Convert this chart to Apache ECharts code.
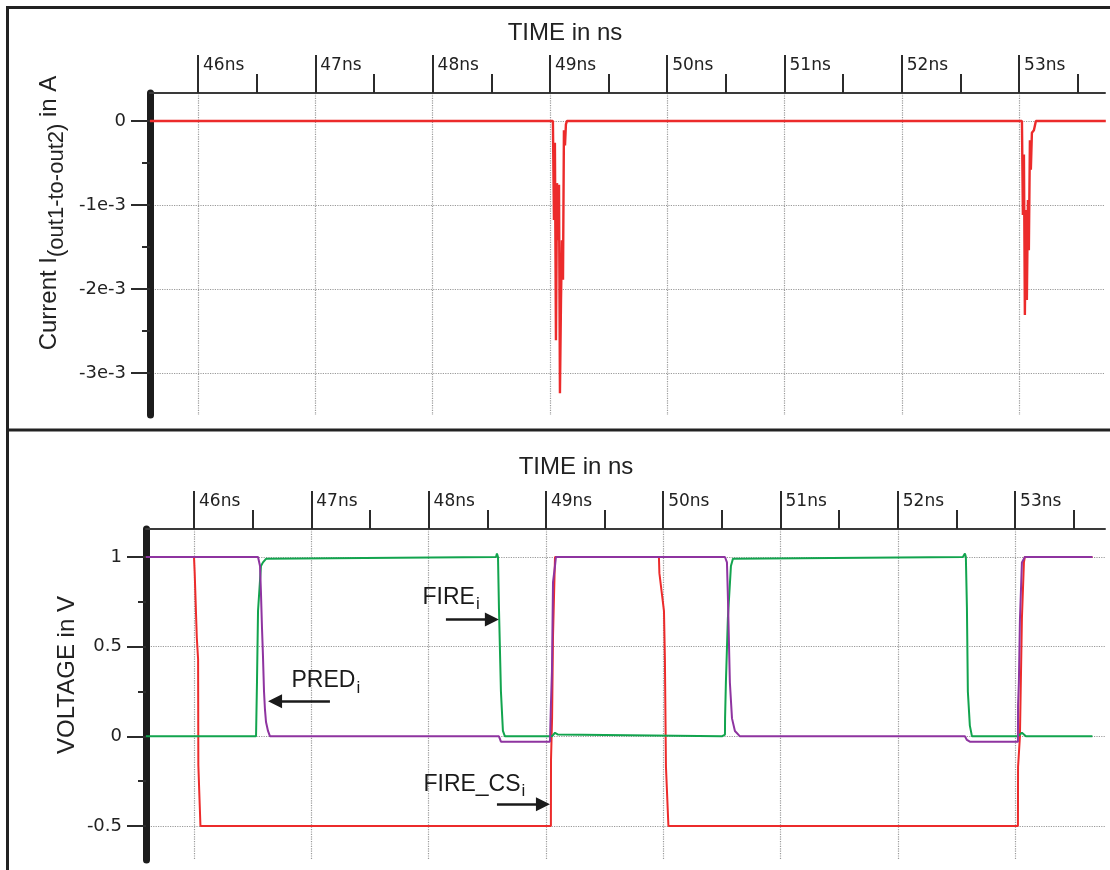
<!DOCTYPE html>
<html>
<head>
<meta charset="utf-8">
<title>Current and voltage waveforms</title>
<script src="https://cdn.jsdelivr.net/npm/echarts@6/dist/echarts.min.js"></script>
<style>
  html, body { margin: 0; padding: 0; background: #fff; }
  #chart { width: 1110px; height: 870px; }
</style>
</head>
<body>
<div id="chart"></div>
<script>
// ---- data ----
// top panel: current I(out1-to-out2) in A
const currentTime = [45.59, 49.026, 49.035, 49.043, 49.052, 49.061, 49.069, 49.078, 49.086, 49.095,
  49.103, 49.112, 49.120, 49.129, 49.137, 49.146, 53.025, 53.033, 53.042, 53.050, 53.059, 53.067,
  53.076, 53.084, 53.093, 53.101, 53.110, 53.127, 53.144, 53.74];
const currentAmp = [0, 0, -0.00118, -0.00026, -0.00261, -0.00074, -0.00142, -0.00076, -0.00324, -0.00213,
  -0.00142, -0.00189, -0.00011, -0.00029, -0.00004, 0, 0, -0.00112, -0.00040, -0.00231, -0.00106, -0.00213,
  -0.00094, -0.00154, -0.00023, -0.00058, -0.00014, -0.00011, 0, 0];

// bottom panel: voltages in V
const fireCsTime = [45.59, 46.000, 46.006, 46.024, 46.035, 46.037, 46.053, 46.055, 49.043, 49.044, 49.052,
  49.053, 49.061, 49.078, 49.964, 49.968, 50.007, 50.015, 50.024, 50.041, 50.045, 53.025, 53.026, 53.033,
  53.042, 53.059, 53.076, 53.084, 53.66];
const fireCsVolt = [1, 1, 0.91, 0.55, 0.43, -0.16, -0.16, -0.5, -0.5, -0.13, -0.13, 0.1, 0.56, 1, 1, 0.91,
  0.7, 0.43, -0.17, -0.17, -0.5, -0.5, -0.17, -0.18, 0, 0.66, 0.97, 1, 1];

const fireTime = [45.59, 46.503, 46.512, 46.529, 46.537, 46.546, 46.571, 46.588, 46.614, 46.631, 48.575,
  48.583, 48.592, 48.600, 48.617, 48.634, 48.651, 49.052, 49.061, 49.078, 49.103, 49.120, 50.501, 50.510,
  50.527, 50.528, 50.535, 50.552, 50.578, 50.595, 50.612, 52.556, 52.573, 52.581, 52.590, 52.598, 52.615,
  52.633, 53.025, 53.042, 53.059, 53.076, 53.093, 53.66];
const fireVolt = [0, 0, -0.01, 0, 0.3, 0.7, 0.95, 0.97, 0.99, 1, 1, 1.02, 1, 0.72, 0.25, 0.03, 0, 0, -0.01,
  0.02, 0.01, 0, 0, -0.01, 0.01, 0.1, 0.3, 0.66, 0.95, 0.99, 1, 1, 1.02, 1, 0.72, 0.25, 0.06, 0, 0, 0.01,
  0.02, 0.01, 0, 0];

const predTime = [45.59, 46.546, 46.563, 46.571, 46.580, 46.588, 46.597, 46.605, 46.614, 46.631, 46.648,
  48.600, 48.617, 49.035, 49.043, 49.052, 49.061, 49.078, 49.086, 50.527, 50.535, 50.544, 50.552, 50.569,
  50.587, 50.612, 50.655, 52.573, 52.590, 52.615, 53.025, 53.026, 53.033, 53.042, 53.059, 53.084, 53.66];
const predVolt = [1, 1, 0.95, 0.8, 0.6, 0.45, 0.25, 0.15, 0.08, 0.03, 0, 0, -0.03, -0.03, 0.17, 0.36, 0.86,
  0.95, 1, 1, 1.01, 0.97, 0.78, 0.3, 0.1, 0.03, 0, 0, -0.02, -0.03, -0.03, 0.17, 0.3, 0.65, 0.97, 1, 1];

// annotations (label anchor and arrow ends, in ns / V)
const noteText = ['{m|FIRE}{s|i}', '{m|PRED}{s|i}', '{m|FIRE_CS}{s|i}'];
const noteTime = [47.944, 46.827, 47.952];
const noteVolt = [0.775, 0.309, -0.268];
const arrowFromTime = [48.148, 47.159, 48.583];
const arrowToTime = [48.540, 46.691, 48.975];
const arrowVolt = [0.652, 0.195, -0.379];

// axis ranges and ticks
const timeTicks = [46, 54];          // first / last time tick, 1 ns apart
const currentTicks = [-0.003, 0];    // 1e-3 apart
const voltTicks = [-0.5, 1];         // 0.5 apart

const pairs = (xs, ys) => xs.map((x, i) => [x, ys[i]]);

const chart = echarts.init(document.getElementById('chart'));

const dark = '#2b2b2b';
const gridLine = { show: true, showMinLine: true, showMaxLine: true,
  lineStyle: { color: '#9a9a9a', type: 'dotted', width: 1.2 } };
const tickFont = { fontFamily: 'DejaVu Sans', fontSize: 17, color: '#222' };
const bigFont = '24px "Liberation Sans"';

// hidden helper axis
const blank = (gridIndex) => ({ gridIndex, type: 'value', show: false, min: 0, max: 1 });

// data axes: only the frame lines
const dataX = (gridIndex, min, max) => ({
  gridIndex, type: 'value', position: 'top', min, max,
  axisLine: { show: true, onZero: false, lineStyle: { color: '#3a3a3a', width: 2 } },
  axisTick: { show: false }, axisLabel: { show: false }, splitLine: { show: false }
});
const dataY = (gridIndex, min, max) => ({
  gridIndex, type: 'value', min, max,
  axisLine: { show: true, onZero: false, lineStyle: { color: '#1c1c1c', width: 7 } },
  axisTick: { show: false }, axisLabel: { show: false }, splitLine: { show: false }
});

// tick axes
const timeAxis = (gridIndex) => ({
  gridIndex, type: 'value', position: 'top', min: timeTicks[0], max: timeTicks[1], interval: 1,
  axisLine: { show: false, onZero: false },
  axisTick: { show: true, length: 38, lineStyle: { color: dark, width: 2 } },
  minorTick: { show: true, splitNumber: 2, length: 19, lineStyle: { color: dark, width: 2 } },
  axisLabel: { show: true, formatter: (v) => v + 'ns', align: 'left', padding: [0, 0, 0, 5], margin: 19, ...tickFont },
  splitLine: gridLine
});
const levelAxis = (gridIndex, ticks, interval, formatter) => ({
  gridIndex, type: 'value', min: ticks[0], max: ticks[1], interval,
  axisLine: { show: false, onZero: false },
  axisTick: { show: true, length: 19, lineStyle: { color: dark, width: 2 } },
  minorTick: { show: true, splitNumber: 2, length: 8, lineStyle: { color: dark, width: 2 } },
  axisLabel: { show: true, margin: 24, formatter, ...tickFont, fontSize: 18 },
  splitLine: gridLine
});

const lineSeries = (axisIndex, xs, ys, color, extra) => Object.assign({
  type: 'line', xAxisIndex: axisIndex, yAxisIndex: axisIndex,
  data: pairs(xs, ys), symbol: 'none', showSymbol: false, silent: true,
  lineStyle: { color, width: 2 }, itemStyle: { color }
}, extra || {});

const richNote = {
  m: { fontFamily: 'Liberation Sans', fontSize: 23, color: '#1a1a1a' },
  s: { fontFamily: 'Liberation Sans', fontSize: 17, color: '#1a1a1a', padding: [14, 0, 0, 1], verticalAlign: 'bottom' }
};

// grids are placed by hand, so no automatic shrinking to fit labels
const box = (left, width, top, height) => ({ left, width, top, height, containLabel: false, outerBoundsMode: 'none' });

const option = {
  animation: false,
  backgroundColor: '#ffffff',
  grid: [
    box(150, 955, 93, 322),    // top data
    box(198, 938.4, 93, 322),  // top time ticks
    box(150, 955, 121, 252),   // top current ticks
    box(146, 959, 529, 331),   // bottom data
    box(194, 938.4, 529, 331), // bottom time ticks
    box(146, 959, 557, 269)    // bottom voltage ticks
  ],
  xAxis: [
    dataX(0, 45.5908, 53.7332),
    timeAxis(1),
    blank(2),
    dataX(3, 45.5908, 53.7673),
    timeAxis(4),
    blank(5)
  ],
  yAxis: [
    dataY(0, -0.0035, 0.000333),
    blank(1),
    levelAxis(2, currentTicks, 0.001, (v) => (Math.abs(v) < 1e-9 ? '0' : Math.round(v * 1000) + 'e-3')),
    dataY(3, -0.6896, 1.1561),
    blank(4),
    levelAxis(5, voltTicks, 0.5, (v) => String(v))
  ],
  graphic: [
    { type: 'rect', silent: true, shape: { x: 7.5, y: 7.5, width: 1130, height: 900 },
      style: { fill: 'none', stroke: '#222', lineWidth: 3 } },
    { type: 'line', silent: true, shape: { x1: 7.5, y1: 430, x2: 1110, y2: 430 },
      style: { stroke: '#222', lineWidth: 3 } },
    { type: 'text', silent: true, x: 565, y: 33.5,
      style: { text: 'TIME in ns', font: bigFont, fill: '#222', align: 'center', textAlign: 'center',
        verticalAlign: 'middle', textVerticalAlign: 'middle' } },
    { type: 'text', silent: true, x: 576, y: 467,
      style: { text: 'TIME in ns', font: bigFont, fill: '#222', align: 'center', textAlign: 'center',
        verticalAlign: 'middle', textVerticalAlign: 'middle' } },
    { type: 'text', silent: true, x: 49, y: 213, rotation: Math.PI / 2,
      style: {
        text: '{m|Current I}{s|(out1-to-out2)}{m| in A}',
        rich: {
          m: { fontFamily: 'Liberation Sans', fontSize: 24, fill: '#222' },
          s: { fontFamily: 'Liberation Sans', fontSize: 22, fill: '#222', padding: [16, 0, 0, 0], verticalAlign: 'bottom' }
        },
        fill: '#222', align: 'center', textAlign: 'center', verticalAlign: 'middle', textVerticalAlign: 'middle'
      } },
    { type: 'text', silent: true, x: 67, y: 675, rotation: Math.PI / 2,
      style: { text: 'VOLTAGE in V', font: bigFont, fill: '#222', align: 'center', textAlign: 'center',
        verticalAlign: 'middle', textVerticalAlign: 'middle' } }
  ],
  series: [
    lineSeries(0, currentTime, currentAmp, '#ec2b2b', { lineStyle: { color: '#ec2b2b', width: 2.4 } }),
    lineSeries(3, fireCsTime, fireCsVolt, '#ec2b2b'),
    lineSeries(3, fireTime, fireVolt, '#12a44e'),
    lineSeries(3, predTime, predVolt, '#8e34a0', {
      markLine: {
        silent: true, animation: false,
        symbol: ['none', 'triangle'], symbolSize: 14,
        lineStyle: { color: '#1a1a1a', width: 2.5, type: 'solid' },
        itemStyle: { color: '#1a1a1a' },
        label: { show: false },
        data: arrowVolt.map((v, i) => [
          { coord: [arrowFromTime[i], v] },
          { coord: [arrowToTime[i], v] }
        ])
      },
      markPoint: {
        silent: true, animation: false,
        symbol: 'circle', symbolSize: 1,
        itemStyle: { color: 'rgba(0,0,0,0)' },
        label: { show: true, position: 'right', distance: 0, rich: richNote },
        data: noteText.map((t, i) => ({ coord: [noteTime[i], noteVolt[i]], label: { formatter: t } }))
      }
    })
  ]
};

chart.setOption(option);
</script>
</body>
</html>
